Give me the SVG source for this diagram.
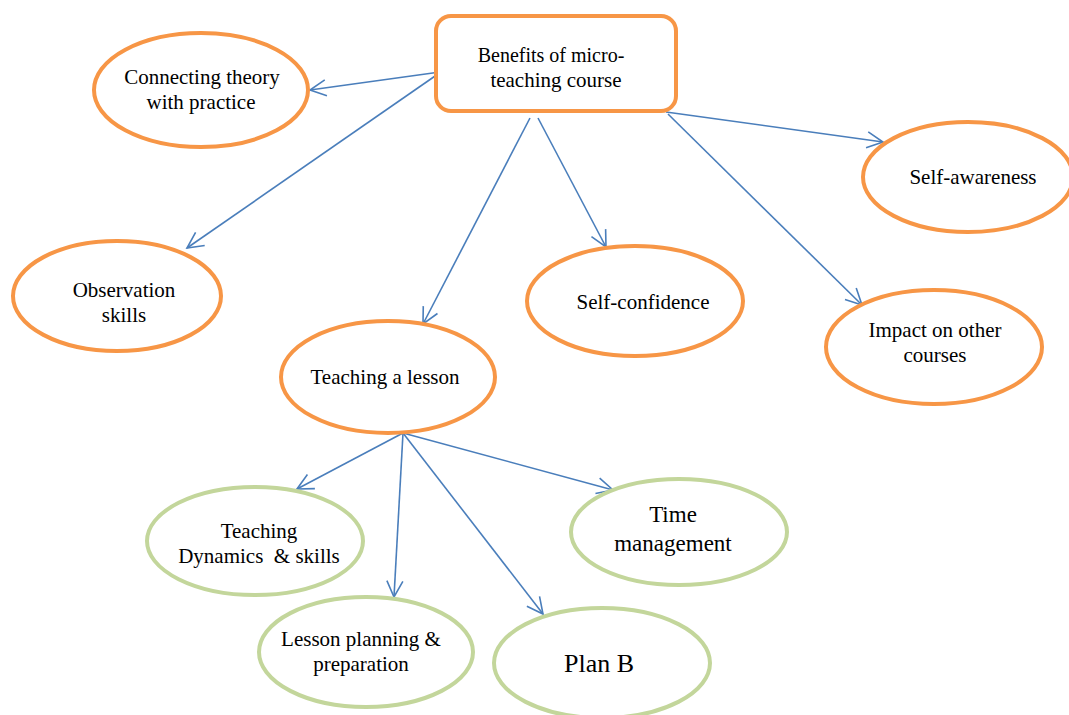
<svg xmlns="http://www.w3.org/2000/svg" width="1069" height="715" viewBox="0 0 1069 715">
<defs>
<style>
.o{fill:#fff;stroke:#F79646;stroke-width:4}
.g{fill:#fff;stroke:#C3D69B;stroke-width:4}
.c{stroke:#4A7EBB;stroke-width:1.6;fill:none;marker-end:url(#ah)}
text{font-family:"Liberation Serif","Times New Roman",serif;font-size:21px;fill:#000;text-anchor:middle}
</style>
<marker id="ah" viewBox="0 0 20 20" refX="18" refY="10" markerWidth="20" markerHeight="20" markerUnits="userSpaceOnUse" orient="auto">
<path d="M2,2 L18,10 L2,18" fill="none" stroke="#4A7EBB" stroke-width="1.6"/>
</marker>
</defs>
<rect width="1069" height="715" fill="#fff"/>
<g id="connectors">
<line class="c" x1="440" y1="72" x2="310" y2="90"/>
<line class="c" x1="438" y1="74" x2="187" y2="248"/>
<line class="c" x1="530" y1="118" x2="423" y2="324"/>
<line class="c" x1="538" y1="118" x2="606" y2="247"/>
<line class="c" x1="666" y1="112" x2="883" y2="142"/>
<line class="c" x1="668" y1="114" x2="862" y2="305"/>
<line class="c" x1="403" y1="433" x2="297" y2="489"/>
<line class="c" x1="403" y1="433" x2="394" y2="597"/>
<line class="c" x1="403" y1="433" x2="543" y2="614"/>
<line class="c" x1="403" y1="433" x2="613" y2="490"/>
</g>
<g id="benefits">
<rect class="o" x="436" y="16" width="240" height="95" rx="15"/>
<text x="551" y="62" style="font-size:20px">Benefits of micro-</text>
<text x="556" y="87">teaching course</text>
</g>
<g id="connecting">
<ellipse class="o" cx="201" cy="90" rx="107" ry="57"/>
<text x="202" y="84">Connecting theory</text>
<text x="201" y="109">with practice</text>
</g>
<g id="observation">
<ellipse class="o" cx="117" cy="296" rx="104" ry="55"/>
<text x="124" y="297">Observation</text>
<text x="124" y="322">skills</text>
</g>
<g id="selfawareness">
<ellipse class="o" cx="968" cy="177" rx="105" ry="55"/>
<text x="973" y="184">Self-awareness</text>
</g>
<g id="selfconfidence">
<ellipse class="o" cx="635" cy="301" rx="108" ry="55"/>
<text x="643" y="309">Self-confidence</text>
</g>
<g id="impact">
<ellipse class="o" cx="934" cy="347" rx="108" ry="57"/>
<text x="935" y="337">Impact on other</text>
<text x="935" y="362">courses</text>
</g>
<g id="teaching">
<ellipse class="o" cx="388" cy="377" rx="107" ry="56"/>
<text x="385" y="384">Teaching a lesson</text>
</g>
<g id="dynamics">
<ellipse class="g" cx="255" cy="541" rx="108" ry="54"/>
<text x="259" y="538">Teaching</text>
<text x="259" y="563" style="white-space:pre">Dynamics  &amp; skills</text>
</g>
<g id="time">
<ellipse class="g" cx="679" cy="532" rx="108" ry="53"/>
<text x="673" y="522" style="font-size:23px">Time</text>
<text x="673" y="551" style="font-size:23px">management</text>
</g>
<g id="lesson">
<ellipse class="g" cx="366" cy="652" rx="107" ry="55"/>
<text x="361" y="646">Lesson planning &amp;</text>
<text x="361" y="671">preparation</text>
</g>
<g id="planb">
<ellipse class="g" cx="602" cy="663" rx="108" ry="55"/>
<text x="599" y="672" style="font-size:26px">Plan B</text>
</g>
</svg>
